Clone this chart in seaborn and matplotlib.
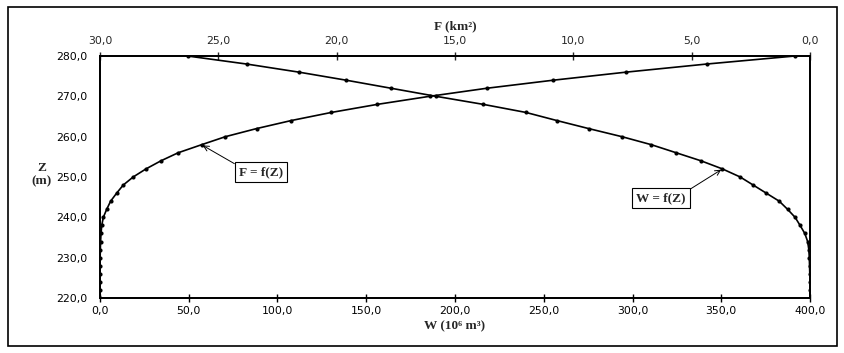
import matplotlib
matplotlib.use("Agg")
import matplotlib.pyplot as plt
import seaborn as sns
from matplotlib.patches import Rectangle
from matplotlib.ticker import FuncFormatter, MultipleLocator

# elevation levels (m)
Z = [220, 222, 224, 226, 228, 230, 232, 234, 236, 238, 240, 242, 244, 246, 248, 250,
     252, 254, 256, 258, 260, 262, 264, 266, 268, 270, 272, 274, 276, 278, 280]
# volume W (10^6 m3), bottom axis
W = [0.0, 0.0, 0.0, 0.0, 0.05, 0.1, 0.2, 0.35, 0.6, 1.0, 1.9, 3.8, 6.0, 9.4, 13.1, 18.7,
     25.9, 34.3, 44.0, 57.2, 70.7, 88.2, 107.8, 130.3, 156.2, 185.7, 217.9, 255.4, 296.5, 341.7, 391.6]
# area F (km2), top axis (reversed)
F = [0.0, 0.0, 0.0, 0.01, 0.02, 0.03, 0.05, 0.1, 0.22, 0.42, 0.63, 0.95, 1.3, 1.85, 2.4, 2.95,
     3.7, 4.6, 5.65, 6.7, 7.95, 9.35, 10.7, 12.0, 13.8, 15.8, 17.7, 19.6, 21.6, 23.8, 26.3]

sns.set_style("white")
plt.rcParams["font.family"] = ["DejaVu Sans"]

BOLD = dict(family=["Liberation Serif", "DejaVu Serif"], fontweight="bold", fontsize=9.5)
comma = FuncFormatter(lambda v, p: f"{v:.1f}".replace(".", ","))

fig = plt.figure(figsize=(8.45, 3.53), dpi=100)
ax = fig.add_axes([0.1183, 0.1558, 0.8403, 0.6856])

sns.lineplot(x=W, y=Z, ax=ax, sort=False, estimator=None, color="black",
             linewidth=1.2, marker="o", markersize=3, markeredgewidth=0)
ax.set_xlim(0, 400)
ax.set_ylim(220, 280)
ax.xaxis.set_major_locator(MultipleLocator(50))
ax.yaxis.set_major_locator(MultipleLocator(10))
ax.xaxis.set_major_formatter(comma)
ax.yaxis.set_major_formatter(comma)
ax.tick_params(axis="both", direction="inout", length=6, width=1, labelsize=7.8, colors="black")
ax.tick_params(axis="x", pad=3)
ax.tick_params(axis="y", pad=6)
ax.set_xlabel("W (10\u2076 m\u00b3)", labelpad=3, **BOLD)
ax.set_ylabel("Z\n(m)", rotation=0, ha="center", va="center", linespacing=1.1, **BOLD)
ax.yaxis.set_label_coords(-0.082, 0.51)

ax2 = ax.twiny()
sns.lineplot(x=F, y=Z, ax=ax2, sort=False, estimator=None, color="black",
             linewidth=1.2, marker="o", markersize=3, markeredgewidth=0)
ax2.set_xlim(30, 0)
ax2.xaxis.set_major_locator(MultipleLocator(5))
ax2.xaxis.set_major_formatter(comma)
ax2.tick_params(axis="x", direction="inout", length=6, width=1, labelsize=7.8, pad=4)
ax2.set_xlabel("F (km\u00b2)", labelpad=5, **BOLD)

for a in (ax, ax2):
    for s in a.spines.values():
        s.set_linewidth(1.3)
        s.set_color("black")

box = dict(boxstyle="square,pad=0.3", fc="white", ec="black", lw=0.8)
i = Z.index(258)
ax.annotate("F = f(Z)", xy=(W[i], Z[i]), xytext=(90.6, 251.2), ha="center", va="center",
            bbox=box, **BOLD,
            arrowprops=dict(arrowstyle="->", lw=0.7, color="black", relpos=(0, 1), shrinkA=0, shrinkB=1))
j = Z.index(252)
ax2.annotate("W = f(Z)", xy=(F[j], Z[j]), xytext=(6.3, 244.8), ha="center", va="center",
             bbox=box, **BOLD,
             arrowprops=dict(arrowstyle="->", lw=0.7, color="black", relpos=(1, 1), shrinkA=0, shrinkB=1))

fig.patches.append(Rectangle((8 / 845, 7 / 353), 829 / 845, 339 / 353, transform=fig.transFigure,
                             fill=False, lw=1.2, ec="black"))

fig.savefig("out.png", dpi=100)
